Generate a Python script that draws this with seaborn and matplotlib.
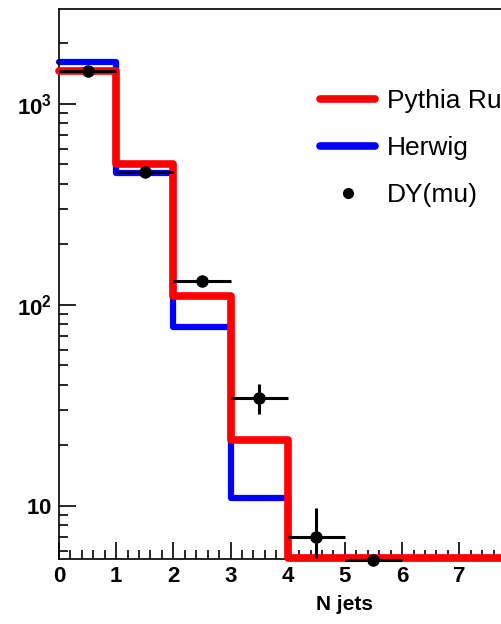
import numpy as np
import pandas as pd
import matplotlib
matplotlib.use("Agg")
import matplotlib.pyplot as plt
import matplotlib.ticker as mticker
from matplotlib.lines import Line2D
import seaborn as sns

# ---- data ----
bin_edges = [0, 1, 2, 3, 4, 5, 6, 7, 8]
pythia = [1465, 502, 111, 21.3, 5.5, 5.5, 5.5, 5.5]
herwig = [1618, 454, 77.6, 10.9, 5.5, 5.5, 5.5, 5.5]
data_x = [0.5, 1.5, 2.5, 3.5, 4.5, 5.5]
data_y = [1465, 458, 132, 34.4, 7.0, 5.4]
data_err_lo = [40, 18, 8, 5.7, 1.5, 0.0]
data_err_hi = [40, 18, 8, 6.1, 2.8, 0.0]
data_xerr = [0.5, 0.5, 0.5, 0.5, 0.5, 0.5]
labels = ["Pythia Run", "Herwig", "DY(mu)"]
xtick_vals = [0, 1, 2, 3, 4, 5, 6, 7]
ytick_vals = [10, 100, 1000]
ytick_labels = [r"$\mathbf{10}$", r"$\mathbf{10^{2}}$", r"$\mathbf{10^{3}}$"]

sns.set_style("ticks")
plt.rcParams["font.family"] = ["Liberation Sans Narrow", "Liberation Sans", "DejaVu Sans"]
plt.rcParams["mathtext.fontset"] = "custom"
plt.rcParams["mathtext.bf"] = "Liberation Sans:bold"
plt.rcParams["mathtext.rm"] = "Liberation Sans"
plt.rcParams["text.color"] = "black"
plt.rcParams["axes.labelcolor"] = "black"

fig = plt.figure(figsize=(5.01, 6.24), dpi=100)
ax = fig.add_axes([59 / 501, 65 / 624, 1 - 59 / 501, 550 / 624])

df_p = pd.DataFrame({"x": bin_edges, "y": pythia + [pythia[-1]]})
df_h = pd.DataFrame({"x": bin_edges, "y": herwig + [herwig[-1]]})

sns.lineplot(data=df_h, x="x", y="y", ax=ax, color="#0000ff", lw=4.5,
             drawstyle="steps-post", estimator=None, clip_on=False, zorder=2)
sns.lineplot(data=df_p, x="x", y="y", ax=ax, color="#ff0000", lw=5.5,
             drawstyle="steps-post", estimator=None, clip_on=False, zorder=3)

ax.errorbar(data_x, data_y, xerr=data_xerr, yerr=[data_err_lo, data_err_hi],
            fmt="o", color="black", ms=8, elinewidth=2.2, capsize=0,
            clip_on=False, zorder=4)

ax.set_yscale("log")
ax.set_xlim(0, 7.73)
ax.set_ylim(5.45, 2966)

ax.xaxis.set_major_locator(mticker.FixedLocator(xtick_vals))
ax.xaxis.set_minor_locator(mticker.MultipleLocator(0.2))
ax.set_xticklabels([str(v) for v in xtick_vals], fontsize=16, fontweight="bold")
ax.yaxis.set_major_locator(mticker.FixedLocator(ytick_vals))
ax.yaxis.set_major_formatter(mticker.FixedFormatter(ytick_labels))
ax.yaxis.set_minor_locator(mticker.LogLocator(base=10, subs=np.arange(2, 10)))
ax.yaxis.set_minor_formatter(mticker.NullFormatter())
for t in ax.get_yticklabels():
    t.set_fontsize(16)

ax.tick_params(axis="both", which="major", direction="in", length=12, width=1.2,
               color="black", labelcolor="black")
ax.tick_params(axis="both", which="minor", direction="in", length=6.5, width=1.2,
               color="black")
ax.tick_params(axis="x", which="major", pad=5)
ax.tick_params(axis="y", which="major", pad=5)

for s in ["left", "bottom", "top"]:
    ax.spines[s].set_linewidth(1.2)
    ax.spines[s].set_color("black")
ax.spines["right"].set_visible(False)

ax.set_xlabel("N jets", fontsize=15, fontweight="bold", color="black")
ax.set_ylabel("")
ax.xaxis.set_label_coords(0.646, -0.065)

handles = [Line2D([], [], color="#ff0000", lw=5.5),
           Line2D([], [], color="#0000ff", lw=5.5),
           Line2D([], [], color="black", marker="o", ms=7, lw=0)]
leg = ax.legend(handles, labels, loc="upper left",
                bbox_to_anchor=(320 / 501, 1 - 89 / 624), bbox_transform=fig.transFigure,
                frameon=False, fontsize=19, handlelength=2.1, handletextpad=0.45,
                labelspacing=0.87, borderpad=0, borderaxespad=0)
for t in leg.get_texts():
    t.set_color("black")

fig.savefig("out.png", dpi=100)
